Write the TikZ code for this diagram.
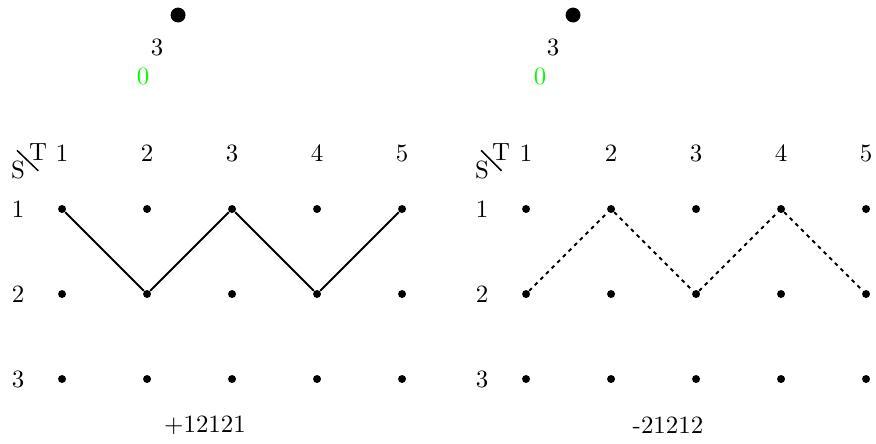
\documentclass[tikz,border=0pt]{standalone}
\usepackage{tikz}
\usetikzlibrary{calc}

\tikzset{
    dot/.style={circle, fill, inner sep=0pt, minimum size=3.2pt},
    bigdot/.style={circle, fill, inner sep=0pt, minimum size=6pt}
}

\begin{document}
\begin{tikzpicture}[x=1.2cm, y=1.2cm]
\useasboundingbox (0.27,-3.753) rectangle (10.576,1.459);

% Top markers
\node[bigdot] (topL) at (2.365,1.282) {};
\node (threeL) at (2.118,0.906) {3};
\node[text=green] (zeroL) at (1.953,0.565) {0};

\node[bigdot] (topR) at (7.012,1.282) {};
\node (threeR) at (6.776,0.906) {3};
\node[text=green] (zeroR) at (6.624,0.565) {0};

% Left grid
\foreach \i in {1,...,5} {
    \node (hL\i) at (\i,-0.341) {\i};
    \foreach \j in {1,2,3}
        \node[dot] (L\i\j) at (\i,-\j) {};
}
\foreach \j in {1,2,3}
    \node (rL\j) at (0.482,-\j) {\j};

% Corner S / T
\node (SL) at (0.482,-0.541) {S};
\node (TL) at (0.718,-0.329) {T};
\coordinate (sa) at (0.47,-0.31);
\coordinate (sb) at (0.72,-0.55);
\draw[semithick] (sa) -- (sb);

% Solid path
\draw[thick] (L11) -- (L22) -- (L31) -- (L42) -- (L51);
\node (labL) at (2.682,-3.541) {+12121};

% Right grid
\foreach \i in {1,...,5} {
    \node (hR\i) at ({\i+5.459},-0.341) {\i};
    \foreach \j in {1,2,3}
        \node[dot] (R\i\j) at ({\i+5.459},-\j) {};
}
\foreach \j in {1,2,3}
    \node (rR\j) at (5.941,-\j) {\j};

% Corner S / T
\node (SR) at (5.941,-0.541) {S};
\node (TR) at (6.165,-0.329) {T};
\coordinate (ta) at (5.93,-0.31);
\coordinate (tb) at (6.17,-0.55);
\draw[semithick] (ta) -- (tb);

% Dotted path
\draw[thick, dash pattern=on 1.5pt off 1.7pt] (R12) -- (R21) -- (R32) -- (R41) -- (R52);
\node (labR) at (8.129,-3.541) {-21212};

\end{tikzpicture}
\end{document}
